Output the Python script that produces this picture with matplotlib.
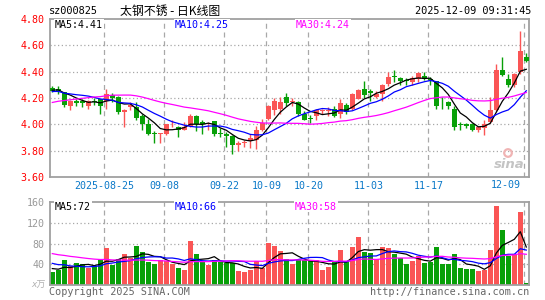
import matplotlib
matplotlib.use('Agg')
import matplotlib.pyplot as plt
from matplotlib.patches import Circle
import numpy as np
import pandas as pd

W, H = 545, 300

# ---------------- data ----------------
tick_labels = ['2025-08-25', '09-08', '09-22', '10-09', '10-20', '11-03', '11-17', '12-09']
tick_idx = [9, 19, 29, 36, 43, 53, 63, 79]

opens = [4.275, 4.265, 4.245, 4.14, 4.18, 4.18, 4.14, 4.18, 4.19, 4.18,
         4.22, 4.21, 4.09, 4.13, 4.13, 4.06, 4.00, 3.935, 3.925, 3.93,
         4.00, 3.98, 3.96, 3.99, 4.06, 4.015, 4.00, 4.025, 3.935, 3.93,
         3.91, 3.84, 3.86, 3.87, 3.88, 3.96, 4.04, 4.11, 4.12, 4.21,
         4.17, 4.17, 4.08, 4.05, 4.06, 4.105, 4.10, 4.12, 4.08, 4.145,
         4.12, 4.195, 4.27, 4.25, 4.21, 4.23, 4.31, 4.37, 4.35, 4.335,
         4.32, 4.345, 4.365, 4.345, 4.33, 4.18, 4.17, 4.12, 4.00, 4.00,
         4.00, 3.96, 3.97, 4.02, 4.11, 4.41, 4.345, 4.295, 4.395, 4.51]
highs = [4.29, 4.29, 4.245, 4.185, 4.19, 4.195, 4.185, 4.20, 4.195, 4.27,
         4.235, 4.215, 4.12, 4.17, 4.17, 4.075, 4.04, 3.95, 3.935, 4.005,
         4.03, 3.99, 4.02, 4.08, 4.07, 4.03, 4.02, 4.025, 3.97, 3.945,
         3.92, 3.87, 3.88, 3.93, 3.99, 4.04, 4.15, 4.20, 4.21, 4.24,
         4.20, 4.18, 4.10, 4.07, 4.12, 4.12, 4.13, 4.14, 4.195, 4.16,
         4.24, 4.27, 4.33, 4.27, 4.25, 4.31, 4.40, 4.41, 4.36, 4.35,
         4.37, 4.40, 4.40, 4.36, 4.33, 4.21, 4.18, 4.14, 4.02, 4.01,
         4.01, 3.99, 4.03, 4.21, 4.46, 4.51, 4.38, 4.39, 4.71, 4.54]
lows = [4.245, 4.23, 4.13, 4.11, 4.14, 4.135, 4.12, 4.145, 4.08, 4.12,
        4.17, 4.08, 3.98, 4.11, 4.03, 3.96, 3.92, 3.86, 3.86, 3.92,
        3.98, 3.90, 3.955, 3.98, 3.95, 3.93, 3.96, 3.915, 3.90, 3.83,
        3.775, 3.80, 3.83, 3.82, 3.81, 3.95, 4.03, 4.07, 4.08, 4.14,
        4.14, 4.06, 4.03, 4.01, 4.03, 4.08, 4.06, 4.055, 4.05, 4.08,
        4.11, 4.19, 4.20, 4.18, 4.20, 4.18, 4.29, 4.32, 4.30, 4.30,
        4.30, 4.32, 4.34, 4.30, 4.12, 4.12, 4.12, 3.96, 3.96, 3.97,
        3.95, 3.94, 3.92, 4.01, 4.10, 4.37, 4.28, 4.28, 4.38, 4.47]
closes = [4.255, 4.255, 4.15, 4.18, 4.16, 4.165, 4.18, 4.17, 4.14, 4.23,
          4.20, 4.09, 4.11, 4.15, 4.05, 4.00, 3.93, 3.93, 3.93, 4.00,
          4.005, 3.96, 3.98, 4.06, 4.00, 4.00, 4.005, 3.93, 3.93, 3.91,
          3.84, 3.86, 3.865, 3.895, 3.96, 4.01, 4.14, 4.18, 4.17, 4.16,
          4.18, 4.08, 4.03, 4.04, 4.11, 4.11, 4.11, 4.06, 4.16, 4.095,
          4.23, 4.26, 4.22, 4.24, 4.23, 4.30, 4.36, 4.36, 4.33, 4.33,
          4.35, 4.39, 4.345, 4.335, 4.14, 4.175, 4.14, 3.98, 3.995, 3.99,
          3.96, 3.98, 4.00, 4.11, 4.41, 4.375, 4.295, 4.38, 4.56, 4.48]
volumes = [26, 30, 48, 36, 42, 40, 34, 36, 50, 71,
           39, 50, 59, 52, 76, 64, 45, 40, 49, 47,
           40, 33, 29, 84, 59, 45, 38, 48, 45, 42,
           42, 27, 25, 30, 46, 34, 81, 75, 65, 50,
           40, 48, 48, 46, 48, 29, 35, 45, 67, 45,
           73, 93, 63, 62, 50, 74, 72, 59, 53, 40,
           46, 57, 43, 45, 73, 40, 40, 60, 33, 31,
           31, 28, 30, 67, 152, 105, 56, 60, 140, 5]
# closes / volumes of the 29 sessions before the window (for moving averages)
hist_close = [3.98, 3.99, 4.00, 4.01, 3.99, 4.02, 4.03, 4.05, 4.04, 4.06,
              4.08, 4.10, 4.15, 4.22, 4.28, 4.30, 4.32, 4.29, 4.31, 4.27,
              4.25, 4.28, 4.24, 4.22, 4.21, 4.24, 4.27, 4.26, 4.27]
hist_volume = [95, 88, 90, 80, 85, 75, 70, 72, 65, 68,
               60, 62, 58, 66, 60, 55, 64, 58, 60, 69,
               55, 50, 58, 48, 49, 36, 30, 38, 30]

price_ma_labels = ['MA5:4.41', 'MA10:4.25', 'MA30:4.24']
vol_ma_labels = ['MA5:72', 'MA10:66', 'MA30:58']
ma_windows = [5, 10, 30]
ma_colors = ['#000000', '#0000ff', '#ff00ff']

price_ticks = [3.60, 3.80, 4.00, 4.20, 4.40, 4.60, 4.80]
vol_ticks = [40, 80, 120, 160]

# ---------------- style ----------------
RED = '#fa5555'
GREEN = '#08a008'
FRAME = '#a0a0a0'
GRID = '#a8a8a8'
BLUE_TXT = '#0a78c8'
MONO = 'DejaVu Sans Mono'

n = len(closes)
x = np.arange(n)
o = np.array(opens); c = np.array(closes); hi = np.array(highs); lo = np.array(lows)
up = c >= o
cols = np.where(up, RED, GREEN)

full_c = pd.Series(hist_close + closes)
full_v = pd.Series(hist_volume + volumes)
nh = len(hist_close)

fig = plt.figure(figsize=(W / 100, H / 100), dpi=100)
fig.patch.set_facecolor('white')

def rect(l, t, r, b):
    return [l / W, 1 - b / H, (r - l) / W, (b - t) / H]

x0 = (50 - 52.3) / 6
x1 = (529 - 52.3) / 6

axp = fig.add_axes(rect(50, 19, 529, 177))
axv = fig.add_axes(rect(50, 201.7, 529, 285.3))

for ax in (axp, axv):
    ax.set_xlim(x0, x1)
    for s in ax.spines.values():
        s.set_color(FRAME)
        s.set_linewidth(1.3)
    ax.tick_params(length=0)
    for ti in tick_idx:
        ax.axvline(ti - 1 / 3, color=GRID, lw=0.9, dashes=(4, 3), zorder=0)

# price panel
axp.set_ylim(3.60, 4.80)
for yv in price_ticks[1:-1]:
    axp.axhline(yv, color=GRID, lw=0.9, dashes=(1, 2), zorder=0)
axp.vlines(x, lo, hi, colors=cols, lw=1.0, zorder=2)
body_bot = np.minimum(o, c)
body_h = np.maximum(np.abs(c - o), 0.006)
axp.bar(x, body_h, bottom=body_bot, width=0.8, color=cols, edgecolor='none', zorder=3)
for w, col in zip(ma_windows, ma_colors):
    ma = full_c.rolling(w).mean().values[nh:]
    axp.plot(x, ma, color=col, lw=0.9, zorder=4)
axp.set_yticks(price_ticks)
axp.set_yticklabels(['%.2f' % v for v in price_ticks], color='#ff0000',
                    fontsize=7.2, family=MONO)
axp.tick_params(axis='y', pad=4)
axp.set_xticks([ti - 1 / 3 for ti in tick_idx[:-1]])
axp.set_xticklabels(tick_labels[:-1], color=BLUE_TXT, fontsize=7.2, family=MONO)
axp.tick_params(axis='x', pad=3)

# volume panel
axv.set_ylim(0, 160)
for yv in vol_ticks[:-1]:
    axv.axhline(yv, color=GRID, lw=0.9, dashes=(1, 2), zorder=0)
axv.bar(x, volumes, width=0.78, color=cols, edgecolor='none', zorder=2)
for w, col in zip(ma_windows, ma_colors):
    ma = full_v.rolling(w).mean().values[nh:]
    axv.plot(x, ma, color=col, lw=0.9, zorder=4)
axv.set_yticks(vol_ticks)
axv.set_yticklabels([str(v) for v in vol_ticks], color='#999999',
                    fontsize=7.2, family=MONO)
axv.tick_params(axis='y', pad=4)
axv.set_xticks([])

def ftext(px, py, s, **kw):
    fig.text(px / W, 1 - py / H, s, **kw)

# last date label is pulled inside the frame
ftext(521, 185.5, tick_labels[-1], color=BLUE_TXT, fontsize=7.2, family=MONO,
      va='center', ha='right')

# MA labels
for lx, s, col in zip([55, 175, 296], price_ma_labels, ma_colors):
    ftext(lx, 24.5, s, color=col, fontsize=7.2, family=MONO, va='center', ha='left',
          bbox=dict(facecolor='white', edgecolor='none', pad=0.6), zorder=10)
for lx, s, col in zip([55, 175, 295], vol_ma_labels, ma_colors):
    ftext(lx, 206.5, s, color=col, fontsize=7.2, family=MONO, va='center', ha='left',
          bbox=dict(facecolor='white', edgecolor='none', pad=0.6), zorder=10)

# header
ftext(49, 11.5, 'sz000825', fontsize=7.4, family=MONO, va='center', ha='left')
ftext(120, 11.5, '太钢不锈 - 日K线图', fontsize=8.6,
      family=['Noto Sans CJK SC', 'DejaVu Sans'], va='center', ha='left')
ftext(531, 11.5, '2025-12-09 09:31:45', fontsize=7.4, family=MONO, va='center', ha='right')

# footer
ftext(49, 292, 'Copyright 2025 SINA.COM', fontsize=7.3, family=MONO, color='#666666',
      va='center', ha='left')
ftext(529, 292, 'http://finance.sina.com.cn', fontsize=7.3, family=MONO, color='#666666',
      va='center', ha='right')
ftext(46, 285, 'x万', fontsize=6.5, family=['DejaVu Sans', 'Noto Sans CJK SC'],
      color='#b0b0b0', va='center', ha='right', style='italic')

# watermark
ftext(525, 164, 'sina', fontsize=9.5, color='#c4c4c4', weight='bold', style='italic',
      va='center', ha='right', family='DejaVu Sans')
fig.add_artist(Circle((508, H - 153), 3.8, transform=None, fill=False,
                      edgecolor='#f0b4b4', lw=1.6))

fig.savefig('out.png', dpi=100, facecolor='white')
